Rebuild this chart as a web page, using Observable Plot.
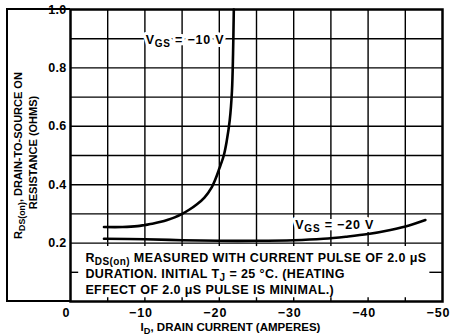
<!DOCTYPE html>
<html>
<head>
<meta charset="utf-8">
<script src="https://cdn.jsdelivr.net/npm/d3@7"></script>
<script src="https://cdn.jsdelivr.net/npm/@observablehq/plot@0.6"></script>
<style>
  html, body { margin: 0; padding: 0; background: #fff; }
  #chart svg { display: block; }
</style>
</head>
<body>
<div id="chart"></div>
<script>
// ---- data ----
const xTicks = [0, -10, -20, -30, -40, -50];
const xGrid = [-5, -10, -15, -20, -25, -30, -35, -40, -45];
const yTicks = [0.2, 0.4, 0.6, 0.8, 1.0];
const yGrid = [0.2, 0.3, 0.4, 0.5, 0.6, 0.7, 0.8, 0.9];

// VGS = -10 V curve
const id10 = [-4.5, -7, -9, -10, -11, -12, -13, -14, -15, -16, -17, -18, -19, -19.5, -20, -20.6, -21, -21.4, -21.7, -21.85, -21.95];
const r10  = [0.255, 0.255, 0.258, 0.262, 0.266, 0.272, 0.279, 0.288, 0.300, 0.315, 0.333, 0.356, 0.392, 0.42, 0.455, 0.50, 0.55, 0.62, 0.72, 0.85, 1.0];
// VGS = -20 V curve
const id20 = [-4.5, -10, -15, -20, -25, -30, -34, -37, -40, -43, -45.5, -47.7];
const r20  = [0.215, 0.213, 0.210, 0.208, 0.208, 0.210, 0.215, 0.222, 0.231, 0.245, 0.260, 0.279];

const curveLabels = ["V_{GS} = −10 V", "V_{GS} = −20 V"];
const curveLabelX = [-15.4, -35.5];
const curveLabelY = [0.895, 0.262];

const noteLines = [
  "R_{DS(on)} MEASURED WITH CURRENT PULSE OF 2.0 μS",
  "DURATION. INITIAL T_{J} = 25 °C. (HEATING",
  "EFFECT OF 2.0 μS PULSE IS MINIMAL.)"
];
const noteY = [0.148, 0.093, 0.038];
const noteX = -2;

const yTitle = ["R_{DS(on)}, DRAIN-TO-SOURCE ON", "RESISTANCE (OHMS)"];
const xTitle = "I_{D}, DRAIN CURRENT (AMPERES)";

const series10 = id10.map((x, i) => ({x, y: r10[i]}));
const series20 = id20.map((x, i) => ({x, y: r20[i]}));
const labels = curveLabels.map((t, i) => ({t, x: curveLabelX[i], y: curveLabelY[i]}));
const notes = noteLines.map((t, i) => ({t, x: noteX, y: noteY[i]}));

const font = "'Liberation Sans', Arial, Helvetica, sans-serif";

const chart = Plot.plot({
  width: 452,
  height: 335,
  marginLeft: 70,
  marginRight: 10,
  marginTop: 9,
  marginBottom: 34,
  style: {fontFamily: font, fontSize: "11px", fontWeight: "bold", color: "#000", background: "#fff", overflow: "visible"},
  x: {domain: [0, -50], label: null},
  y: {domain: [0, 1.0], label: null},
  marks: [
    // grid (only above the note box)
    Plot.ruleX(xGrid, {x: d => d, y1: 0.2, y2: 1.0, stroke: "#000", strokeWidth: 1.4}),
    Plot.ruleY(yGrid, {y: d => d, stroke: "#000", strokeWidth: 1.4}),
    // short stubs of the hidden 0.1 gridline and ticks around the note box
    Plot.ruleY([0.1], {y: d => d, x1: 0, x2: -1.1, stroke: "#000", strokeWidth: 1.4}),
    Plot.ruleY([0.1], {y: d => d, x1: -48.3, x2: -50, stroke: "#000", strokeWidth: 1.4}),
    Plot.ruleX(xGrid, {x: d => d, y1: 0, y2: 0.013, stroke: "#000", strokeWidth: 1.4}),
    Plot.ruleX(xGrid, {x: d => d, y1: 0.188, y2: 0.2, stroke: "#000", strokeWidth: 1.4}),
    Plot.frame({stroke: "#000", strokeWidth: 2.5}),
    // curves
    Plot.line(series10, {x: "x", y: "y", stroke: "#000", strokeWidth: 2.6, curve: "catmull-rom"}),
    Plot.line(series20, {x: "x", y: "y", stroke: "#000", strokeWidth: 2.6, curve: "catmull-rom"}),
    // curve labels with white background
    Plot.text(labels, {x: "x", y: "y", text: "t", fill: "#000", stroke: "#fff", strokeWidth: 6, fontSize: 12.5, fontWeight: "bold"}),
    // note
    Plot.text(notes, {x: "x", y: "y", text: "t", textAnchor: "start", fill: "#000", fontSize: 12.5, fontWeight: "bold"}),
    // axes
    Plot.axisX(xTicks, {tickSize: 0, tickPadding: 7, dx: -4, fontSize: 12.5, fontWeight: "bold"}),
    Plot.axisY(yTicks, {tickSize: 0, tickPadding: 4, tickFormat: d3.format(".1f"), fontSize: 12.5, fontWeight: "bold"}),
    // axis titles
    Plot.text([xTitle], {text: d => d, frameAnchor: "bottom", textAnchor: "middle", lineAnchor: "middle", dy: 26, dx: -26, fontSize: 11.5, fontWeight: "bold"}),
    Plot.text([yTitle[0]], {text: d => d, frameAnchor: "left", textAnchor: "middle", lineAnchor: "middle", rotate: -90, dx: -52, dy: 0, fontSize: 11, fontWeight: "bold"}),
    Plot.text([yTitle[1]], {text: d => d, frameAnchor: "left", textAnchor: "middle", lineAnchor: "middle", rotate: -90, dx: -37, dy: -3, fontSize: 11, fontWeight: "bold"})
  ]
});

const svg = d3.select(chart);

// letter spacing to mimic the wide typeface of the original
const textGroups = svg.selectAll("g[aria-label='text']").nodes();
d3.select(textGroups[0]).attr("letter-spacing", 0.8);   // curve labels
d3.select(textGroups[1]).attr("letter-spacing", 0.4);   // note
svg.selectAll("g[aria-label='x-axis tick label']").attr("letter-spacing", 0.9);
svg.selectAll("g[aria-label='y-axis tick label']").attr("letter-spacing", 0.3);

// subscripts: turn "_{...}" into lowered, smaller tspans
svg.selectAll("text").each(function () {
  const t = this.textContent;
  if (!t.includes("_{")) return;
  const sel = d3.select(this);
  sel.text(null);
  const parts = t.split(/_\{([^}]*)\}/);
  let lowered = false;
  parts.forEach((p, i) => {
    if (p === "") return;
    const isSub = i % 2 === 1;
    const ts = sel.append("tspan").text(p);
    if (isSub) {
      ts.attr("font-size", "0.8em").attr("dy", lowered ? 0 : 3);
      lowered = true;
    } else if (lowered) {
      ts.attr("dy", -3);
      lowered = false;
    }
  });
});

// outer border of the figure (left, top, bottom lines)
svg.append("path")
  .attr("d", "M70,9H7V301H70")
  .attr("fill", "none").attr("stroke", "#000").attr("stroke-width", 2);

document.getElementById("chart").appendChild(chart);
</script>
</body>
</html>
